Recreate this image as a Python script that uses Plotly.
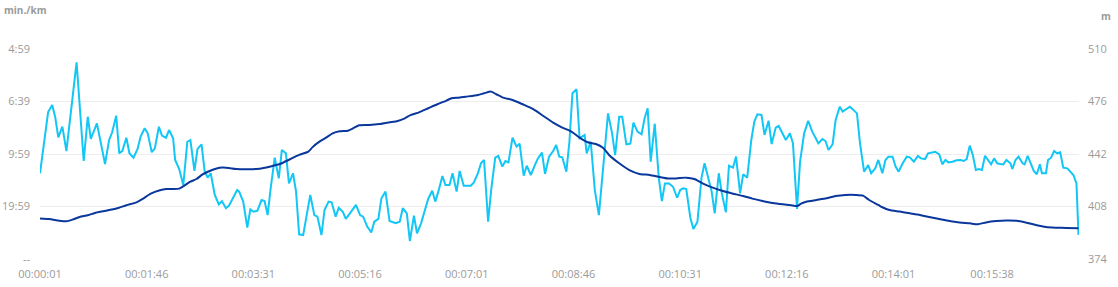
import plotly.graph_objects as go

# Pace series (stored as speed in km/h; axis labelled as min/km pace)
pace_t = [1, 9, 13, 16, 19, 23, 27, 32, 37, 44, 48, 51, 57, 65, 69, 72, 76, 79, 82, 86, 89, 93, 97, 100,
          104, 107, 111, 114, 118, 121, 125, 128, 132, 134, 138, 142, 146, 149, 153, 156, 160, 163, 166,
          169, 173, 177, 180, 184, 187, 195, 197, 201, 205,
          208, 211, 215, 219, 222, 225, 228, 232, 236, 239, 243, 246, 250, 253, 256, 260, 267, 271, 274,
          278, 281, 285, 288, 292, 295, 299, 302, 307, 312, 316, 319, 323, 327, 330, 334, 337, 341, 345,
          351, 355, 358, 362, 365, 369, 372, 376, 380, 383, 387, 390, 393, 397, 400, 404, 407, 411,
          414, 418, 425, 428, 432, 435, 438, 442, 445, 449, 452, 456, 459, 462, 466, 470, 473, 477, 480,
          484, 488, 491, 495, 498, 502, 506, 509, 512, 515, 519, 522, 525, 529, 532, 537, 539, 543, 547,
          551, 556, 560, 564, 567, 571, 574, 578, 582, 585, 589, 593, 596, 599, 602, 606, 610, 613, 616,
          620, 624, 628, 631, 634, 637, 641, 644, 648, 652, 655, 658, 662, 665, 669, 672, 676, 679, 683,
          686, 690, 693, 697, 701, 704, 707, 711, 714, 718, 721, 725, 728, 731, 735, 739, 742, 746, 749,
          753, 757, 761, 764, 767, 771, 774, 777, 781, 784, 788, 791, 794, 798, 801, 805, 808, 812, 816,
          819, 823, 826,
          830, 833, 836, 840, 843, 846, 850, 854, 857, 861, 865, 868, 872, 875, 880, 882, 886, 889, 892,
          895, 899, 903, 907, 910, 913, 916, 919, 922, 925, 928, 931, 934, 937, 940, 943, 946, 949, 952,
          956, 958, 961, 964, 968, 970, 973, 976, 979, 982, 985, 987, 991, 993, 996, 999, 1002, 1005,
          1008, 1012, 1015, 1018, 1021, 1023]
pace_speed = [4.9, 8.4, 8.8, 8.1, 6.95, 7.56, 6.17, 8.9, 11.24, 5.6, 8.13, 6.86, 7.75, 5.43, 6.8, 7.24,
              8.19, 6.04, 6.17, 6.93, 6.04, 5.79, 6.29, 6.99, 7.47, 7.18, 6.1, 6.32, 7.56, 7.05, 6.93,
              7.37, 6.9, 5.66, 5.14, 4.23, 6.7, 6.8, 5.03, 6.29, 6.55, 5.03, 4.65, 4.9, 3.66, 3.12, 3.31,
              2.9, 3.05, 3.94, 3.85, 3.28, 1.79,
              2.84, 2.7, 2.76, 3.37, 3.31, 2.51, 4.04, 5.79, 4.61, 6.23, 6.04, 4.32, 4.9, 3.85, 1.41, 1.37,
              3.66, 2.51, 2.42, 1.37, 2.8, 3.28, 3.24, 2.42, 2.93, 2.7, 2.29, 2.7, 3.09, 2.51, 2.42, 1.85,
              1.52, 2.13, 2.29, 3.47, 3.85, 2.17, 2.04, 2.13, 2.9, 2.61, 1.03, 2.48, 1.47, 2.04, 2.9,
              3.43, 3.9, 3.28, 3.85, 4.74, 4.23, 4.23, 4.9, 3.85,
              5.03, 4.19, 4.19, 4.38, 4.9, 5.47, 5.66, 2.13, 3.94, 5.79, 5.89, 5.28, 5.6, 5.52, 6.93,
              6.42, 6.59, 4.76, 5.33, 4.8, 5.37, 5.75, 6.08, 4.86, 5.85, 6.17, 6.51, 5.85, 5.81, 4.99,
              6.7, 9.47, 9.7, 6.9, 7.09, 6.04, 6.7, 3.94, 2.51, 5.75, 8.32, 7.18, 5.94, 8.13, 8.13, 6.55,
              6.59, 7.79, 7.28, 7.12, 8.04, 8.61, 5.56, 7.73, 4.61, 3.31, 4.32,
              4.32, 4.13, 3.5, 3.94, 4.04, 4.0, 2.36, 1.71, 2.13, 4.65, 5.47, 4.7, 3.85, 2.61, 4.9, 3.75,
              2.67, 5.33, 5.22, 5.85, 3.75, 4.84, 4.65, 6.8, 7.85, 8.27, 8.23, 7.09, 7.9, 6.57, 7.5, 7.6,
              7.28, 6.8, 7.18, 6.61, 2.86, 5.56, 7.18, 7.89, 7.28, 6.9, 6.61, 6.86, 6.74, 6.23, 6.55,
              7.94, 8.7, 8.42, 8.55, 8.7, 8.55, 8.32, 6.61, 4.99, 5.37, 4.9, 5.18, 5.66,
              4.9, 5.66, 5.85, 5.85, 5.28, 4.99, 5.47, 5.85, 5.81, 5.56, 5.89, 5.75, 5.71, 6.04, 6.1,
              6.13, 5.98, 5.41, 5.66, 5.52, 5.56, 5.64, 5.66, 5.6, 5.71, 6.48, 5.94, 5.09, 5.14, 5.09,
              5.9, 5.66, 5.41, 5.75, 5.47, 5.43, 5.41, 5.66, 5.47, 5.14, 5.66, 5.85, 5.47, 5.41, 5.9,
              5.47, 5.03, 4.84, 5.41, 4.9, 4.9, 5.66, 5.79, 6.17, 6.04, 6.1, 5.22, 5.18, 4.99, 4.8, 4.32,
              1.37]

# Elevation series (m)
elev_t = [1, 10, 20, 27, 33, 40, 48, 55, 63, 69, 78, 86, 96, 102, 110, 119, 125, 132, 138, 143, 149,
          155, 161, 168, 174, 181, 187, 194, 206,
          217, 227, 237, 247, 256, 265, 269, 276, 283, 289, 296, 304, 309, 315, 325, 335, 345, 353, 360,
          366, 374, 383, 392, 401, 406, 413,
          420, 432, 438, 445, 450, 456, 466, 476, 486, 496, 506, 515, 524, 532, 540, 548, 555, 561, 571,
          581, 591, 601, 611, 619,
          627, 637, 645, 653, 663, 673, 683, 693, 702, 712, 722, 732, 740, 746, 750, 755, 765, 775, 784,
          794, 804, 811, 817, 826,
          830, 837, 847, 857, 867, 876, 886, 896, 906, 916, 924, 932, 942, 952, 962, 971, 981, 991,
          1001, 1011, 1023]
elev_m = [400.3, 399.9, 398.8, 398.4, 399.5, 401.2, 402.3, 403.8, 404.9, 405.7, 407, 408.8, 410.7,
          412.9, 416.3, 418.5, 419.3, 419.3, 419.6, 421.5, 424.1, 425.8, 428.8, 431, 432.5, 433.2,
          432.9, 432.3, 432.1,
          432.5, 433.8, 435.5, 438.6, 441.4, 443.5, 446.3, 450, 452.8, 455.4, 456.7, 457.1, 458.6,
          460.6, 460.8, 461.4, 462.5, 463.4, 465.1, 467.3, 469, 471.6, 474.2, 476.6, 478.1, 478.5,
          479.1, 480.2, 481.3, 482.4, 480.7, 478.7, 477, 474.2, 471.2, 466.8, 462.3, 459.1, 456.5,
          452.6, 449.6, 448.5, 446.1, 441.4, 436, 431.6, 429.1, 428.4, 427.1, 426.2,
          426.2, 426.7, 425.8, 423, 420.2, 418, 416.3, 414.8, 413.1, 411.6, 410.3, 409.4, 408.8,
          408.3, 409.8, 411.1, 412.2, 413.3, 414.8, 415.5, 415.5, 415, 412.2, 409,
          407.5, 405.7, 404.7, 403.6, 402.5, 401.2, 399.9, 398.6, 397.7, 397.1, 396.5, 397.7, 398.6,
          399, 398.8, 397.7, 396, 394.7, 394.3, 394.1, 393.9]

x_tick_vals = [1, 106, 211, 316, 421, 526, 631, 736, 841, 938]
x_tick_text = ["00:00:01", "00:01:46", "00:03:31", "00:05:16", "00:07:01",
               "00:08:46", "00:10:31", "00:12:16", "00:14:01", "00:15:38"]
pace_tick_vals = [0, 3, 6, 9, 12]
pace_tick_text = ["--", "19:59", "9:59", "6:39", "4:59"]
elev_tick_vals = [374, 408, 442, 476, 510]

LIGHT = "#12c6f6"
DARK = "#0a379c"
GRID = "#ededed"
TXT = "#9a9a9a"
FONT = "Open Sans"

fig = go.Figure()
fig.add_trace(go.Scatter(x=elev_t, y=elev_m, mode="lines", yaxis="y2",
                         line=dict(color=DARK, width=2, shape="spline", smoothing=0.6),
                         showlegend=False))
fig.add_trace(go.Scatter(x=pace_t, y=pace_speed, mode="lines", yaxis="y",
                         line=dict(color=LIGHT, width=2), showlegend=False))

pw = 1118 - 40 - 39
ph = 287 - 49 - 28

fig.update_layout(
    width=1118, height=287,
    margin=dict(l=40, r=39, t=49, b=28, autoexpand=False),
    paper_bgcolor="white", plot_bgcolor="white",
    font=dict(family=FONT, size=11, color=TXT),
    xaxis=dict(range=[1, 1023.5], tickvals=x_tick_vals, ticktext=x_tick_text,
               showgrid=False, zeroline=False, showline=False, ticks="", automargin=False,
               tickfont=dict(size=11, color=TXT), ticklabelstandoff=7),
    yaxis=dict(range=[0, 12], tickvals=pace_tick_vals, ticktext=pace_tick_text,
               showgrid=True, gridcolor=GRID, gridwidth=1, zeroline=False, showline=False,
               ticks="", automargin=False, tickfont=dict(size=11, color=TXT), ticklabelstandoff=9),
    yaxis2=dict(range=[374, 510], tickvals=elev_tick_vals, overlaying="y", side="right",
                showgrid=False, zeroline=False, showline=False, ticks="", automargin=False,
                tickfont=dict(size=11, color=TXT), ticklabelstandoff=8),
    annotations=[
        dict(text="<b>min./km</b>", x=(2 - 40) / pw, y=(287 - 28 - 10) / ph,
             xref="paper", yref="paper", showarrow=False,
             xanchor="left", yanchor="middle", font=dict(size=10, color=TXT, family=FONT)),
        dict(text="<b>m</b>", x=(1113 - 40) / pw, y=(287 - 28 - 16) / ph,
             xref="paper", yref="paper", showarrow=False,
             xanchor="right", yanchor="middle", font=dict(size=10, color=TXT, family=FONT)),
    ],
)

fig.write_html("out.html")
